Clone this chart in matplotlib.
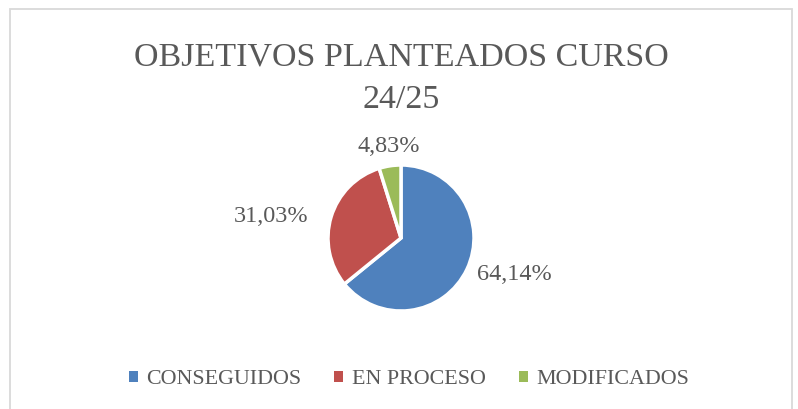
import numpy as np
import matplotlib.pyplot as plt
from matplotlib.patches import Patch, Rectangle

categories = ["CONSEGUIDOS", "EN PROCESO", "MODIFICADOS"]
values = [64.14, 31.03, 4.83]
colors = ["#4F81BD", "#C0504D", "#9BBB59"]
title_lines = ["OBJETIVOS PLANTEADOS CURSO", "24/25"]

# label placement per slice: radius factor, nudge (points) and alignment
label_r = [1.15, 1.36, 1.12]
label_nudge = [(0, 0), (1.5, -5), (0, 0)]
label_ha = ["left", "right", "center"]
label_va = ["center", "center", "bottom"]

txt = "#595959"
font = "Liberation Serif"

W, H = 798, 409
fig = plt.figure(figsize=(W / 100, H / 100), dpi=100)

# chart frame (bottom edge runs off the image)
fig.patches.append(Rectangle((10 / W, -0.05), 782 / W, 1.05 - 9 / H,
                             transform=fig.transFigure, fill=False,
                             edgecolor="#d9d9d9", linewidth=1.3))

for line, base in zip(title_lines, [65, 108]):
    fig.text(401 / W, 1 - base / H, line, ha="center", va="baseline",
             fontsize=24.5, color=txt, family=font)

cx, cy, r = 401, 238, 73
ax = fig.add_axes([(cx - r) / W, (H - cy - r) / H, 2 * r / W, 2 * r / H])
wedges, _ = ax.pie(values, colors=colors, startangle=90, counterclock=False,
                   radius=1, wedgeprops=dict(edgecolor="white", linewidth=2.5))
ax.set_xlim(-1, 1)
ax.set_ylim(-1, 1)
ax.set_aspect("equal")
ax.set_axis_off()

for w, v, lr, nd, ha, va in zip(wedges, values, label_r, label_nudge, label_ha, label_va):
    ang = np.deg2rad((w.theta1 + w.theta2) / 2)
    ax.annotate(f"{v:.2f}%".replace(".", ","), (lr * np.cos(ang), lr * np.sin(ang)),
                xytext=nd, textcoords="offset points",
                ha=ha, va=va, fontsize=17.5, color=txt, family=font,
                annotation_clip=False)

handles = [Patch(facecolor=c, edgecolor="none") for c in colors]
fig.legend(handles, categories, loc="center", bbox_to_anchor=(409 / W, 1 - 380 / H),
           ncol=3, frameon=False, handlelength=0.4, handleheight=0.4,
           handletextpad=0.4, columnspacing=1.5,
           prop=dict(family=font, size=15.8), labelcolor=txt)

fig.savefig("out.png", dpi=100, facecolor="white")
